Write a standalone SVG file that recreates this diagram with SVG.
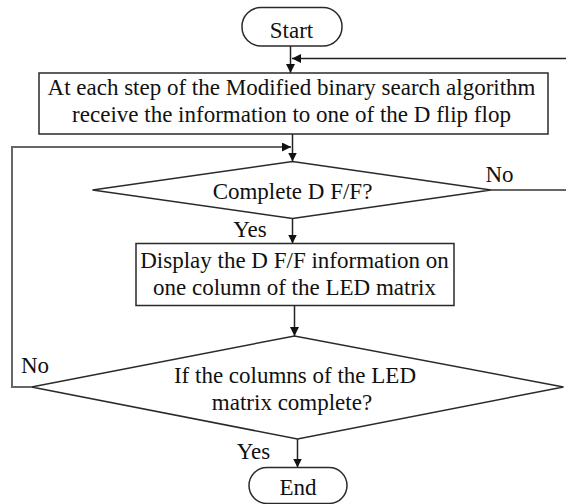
<svg xmlns="http://www.w3.org/2000/svg" width="566" height="504" viewBox="0 0 566 504">
<style>
.box{fill:#fff;stroke:#2a2a2a;stroke-width:1.5}
.t{font-family:"Liberation Serif","Times New Roman",serif;font-size:23px;fill:#111;text-anchor:middle}
.c{stroke:#222;stroke-width:1.5;fill:none}
.g{stroke:#666;stroke-width:2;fill:none}
</style>
<defs>
<marker id="ah" viewBox="0 0 10 10" refX="10" refY="5" markerUnits="userSpaceOnUse" markerWidth="9" markerHeight="9" orient="auto">
<path d="M0,0 L10,5 L0,10 z" fill="#111"/>
</marker>
</defs>
<rect width="566" height="504" fill="#fff"/>
<g id="connectors">
<line class="c" x1="290.5" y1="46" x2="290.5" y2="73" marker-end="url(#ah)"/>
<line class="c" x1="566" y1="58.5" x2="292" y2="58.5" marker-end="url(#ah)"/>
<line class="c" x1="292.5" y1="134" x2="292.5" y2="161.5" marker-end="url(#ah)"/>
<line class="g" x1="491" y1="190" x2="566" y2="190"/>
<line class="c" x1="292.5" y1="218.5" x2="292.5" y2="243.5" marker-end="url(#ah)"/>
<line class="c" x1="294.5" y1="305.5" x2="294.5" y2="336" marker-end="url(#ah)"/>
<polyline class="g" points="31.5,387 12,387 12,147 291,147" marker-end="url(#ah)"/>
<line class="c" x1="297.5" y1="439" x2="297.5" y2="467.5" marker-end="url(#ah)"/>
<text class="t" x="499.5" y="182">No</text>
<text class="t" x="250" y="237">Yes</text>
<text class="t" x="35" y="373">No</text>
<text class="t" x="253.5" y="459">Yes</text>
</g>
<g id="start">
<rect class="box" x="242" y="7.5" width="100" height="38.5" rx="19"/>
<text class="t" x="291.5" y="38">Start</text>
</g>
<g id="receive">
<rect class="box" x="39" y="73" width="509" height="61"/>
<text class="t" x="291.5" y="95">At each step of the Modified binary search algorithm</text>
<text class="t" x="291.5" y="121.5">receive the information to one of the D flip flop</text>
</g>
<g id="complete-dff">
<polygon class="box" points="92.5,190 292.5,161.5 491,190 292.5,218.5"/>
<text class="t" x="292.5" y="199">Complete D F/F?</text>
</g>
<g id="display">
<rect class="box" x="136" y="243.5" width="318" height="62"/>
<text class="t" x="294.5" y="268">Display the D F/F information on</text>
<text class="t" x="294.5" y="295">one column of the LED matrix</text>
</g>
<g id="columns-complete">
<polygon class="box" points="31.5,387 294.5,336 563.5,387 297.5,439"/>
<text class="t" x="295" y="383">If the columns of the LED</text>
<text class="t" x="292" y="410">matrix complete?</text>
</g>
<g id="end">
<rect class="box" x="249" y="467.5" width="98" height="36" rx="18"/>
<text class="t" x="298" y="495">End</text>
</g>
</svg>
